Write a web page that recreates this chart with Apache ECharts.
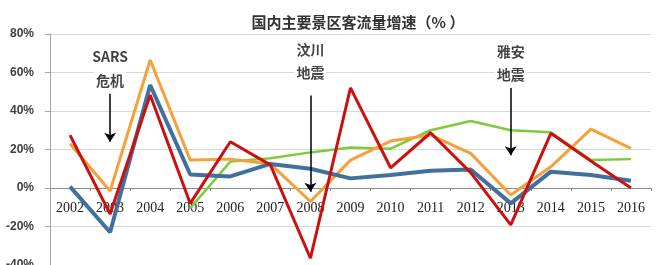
<!DOCTYPE html>
<html>
<head>
<meta charset="utf-8">
<script src="https://cdn.jsdelivr.net/npm/echarts@6/dist/echarts.min.js"></script>
<style>
html,body{margin:0;padding:0;background:#fff;}
#chart{width:656px;height:265px;}
</style>
</head>
<body>
<div id="chart"></div>
<script>
const titleText = '国内主要景区客流量增速（% ）';
const years = ['2002','2003','2004','2005','2006','2007','2008','2009','2010','2011','2012','2013','2014','2015','2016'];
const blueValues   = [0.7, -23, 53.5, 7, 6, 12.5, 10, 5, 6.8, 9, 9.6, -8, 8.5, 6.8, 3.8];
const redValues    = [27.5, -13.5, 48.3, -8, 24, 12, -36.5, 52, 10.5, 28.7, 8, -19.2, 28.4, 14, 0];
const orangeValues = [23, -1.6, 66.5, 14.5, 15, 12.5, -7, 14.5, 24.4, 27.5, 18, -3.6, 11, 30.6, 20.6];
const greenValues  = [null, null, null, -10.5, 13.7, 15.5, 18.5, 21, 20.4, 30, 34.8, 30, 29, 14.5, 15];
const yTicks = {min: -40, max: 80, interval: 20};
const eventCats   = ['2003', '2008', '2013'];
const eventLine1  = ['SARS', '汶川', '雅安'];
const eventLine2  = ['危机', '地震', '地震'];
const eventLine1Y = [68, 72, 71];
const eventLine2Y = [56, 60, 59];
const arrowFrom   = [49, 48, 52];
const arrowTo     = [24, -2, 17];

const chart = echarts.init(document.getElementById('chart'), null, {renderer: 'canvas'});

function lineSeries(name, data, color, width, z) {
  return {
    name: name, type: 'line', data: data, symbol: 'none', z: z,
    lineStyle: {color: color, width: width}, itemStyle: {color: color},
    connectNulls: false, animation: false
  };
}

const annotLabels = [];
for (let i = 0; i < eventCats.length; i++) {
  annotLabels.push({value: [eventCats[i], eventLine1Y[i]], label: {formatter: eventLine1[i]}});
  annotLabels.push({value: [eventCats[i], eventLine2Y[i]], label: {formatter: eventLine2[i]}});
}
const arrows = eventCats.map((c, i) => [{coord: [c, arrowFrom[i]]}, {coord: [c, arrowTo[i]]}]);

const option = {
  animation: false,
  backgroundColor: '#fff',
  title: {
    text: titleText, left: 353, top: 10, textAlign: 'center',
    textStyle: {fontSize: 15, fontWeight: 'bold', color: '#333', fontFamily: 'Noto Sans CJK SC'}
  },
  grid: {left: 50, right: 5, top: 34, bottom: 0, containLabel: false, outerBoundsMode: 'none'},
  xAxis: {
    type: 'category', data: years, boundaryGap: true, position: 'bottom', offset: 0,
    axisLine: {onZero: false, lineStyle: {color: '#8c8c8c', width: 1}},
    axisTick: {show: true, interval: 0, length: 3, lineStyle: {color: '#8c8c8c'}},
    axisLabel: {margin: 13, fontSize: 14, color: '#222', fontFamily: 'Liberation Serif', interval: 0}
  },
  yAxis: {
    type: 'value', min: yTicks.min, max: yTicks.max, interval: yTicks.interval,
    axisLine: {show: true, lineStyle: {color: '#a6a6a6'}},
    axisTick: {show: true, length: 5, lineStyle: {color: '#a6a6a6'}},
    axisLabel: {formatter: '{value}%', fontSize: 12, fontWeight: 'bold', color: '#404040', margin: 16, fontFamily: 'Liberation Sans'},
    splitLine: {lineStyle: {color: '#d9d9d9', width: 1}}
  },
  series: [
    lineSeries('green', greenValues, '#7dcb3a', 2.5, 2),
    lineSeries('orange', orangeValues, '#f7a03a', 3, 3),
    lineSeries('blue', blueValues, '#41709c', 4, 4),
    lineSeries('red', redValues, '#cc1010', 3, 5),
    {
      name: 'arrows', type: 'line', data: [], z: 6, silent: true,
      markLine: {
        silent: true, symbol: ['none', 'arrow'], symbolSize: 9,
        lineStyle: {color: '#000', width: 1.5, type: 'solid'},
        label: {show: false}, data: arrows
      }
    },
    {
      name: 'annotations', type: 'scatter', symbolSize: 0, z: 7, silent: true,
      data: annotLabels,
      label: {
        show: true, position: 'inside', fontSize: 14, color: '#111',
        fontFamily: 'Noto Sans CJK SC', fontWeight: 'bold',
        backgroundColor: '#fff', padding: [2, 2]
      }
    }
  ]
};
chart.setOption(option);
// move the category axis (line, ticks, labels) up to the 0% level
const zeroY = chart.convertToPixel({yAxisIndex: 0}, 0);
const bottomY = chart.convertToPixel({yAxisIndex: 0}, yTicks.min);
chart.setOption({xAxis: {offset: zeroY - bottomY}});
</script>
</body>
</html>
